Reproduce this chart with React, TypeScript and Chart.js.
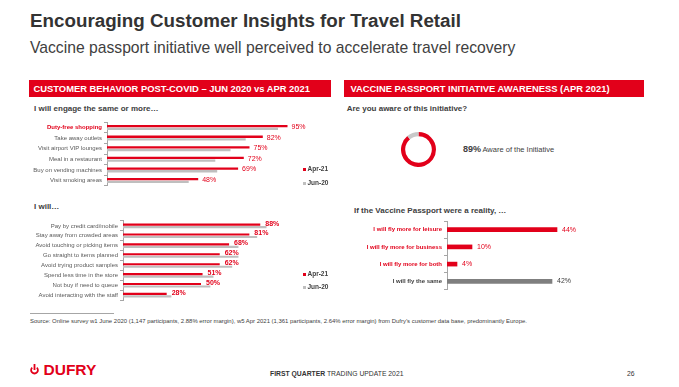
import React, { useEffect, useRef } from "react";
import { Chart, registerables } from "chart.js";
Chart.register(...registerables);

const RED = "#e2001a";
const LIGHTGRAY = "#bfbfbf";
const DARKGRAY = "#7f7f7f";
const TEXT = "#404040";
const FONT = "'Liberation Sans', Arial, sans-serif";

// Customer behaviour: "I will engage the same or more..."
const engageCategories = [
  "Duty-free shopping",
  "Take away outlets",
  "Visit airport VIP lounges",
  "Meal in a restaurant",
  "Buy on vending machines",
  "Visit smoking areas",
];
const engageApr21 = [95, 82, 75, 72, 69, 48];
const engageJun20 = [90, 73, 65, 57, 58, 43];

// "I will..."
const willCategories = [
  "Pay by credit card/mobile",
  "Stay away from crowded areas",
  "Avoid touching or picking items",
  "Go straight to items planned",
  "Avoid trying product samples",
  "Spend less time in the store",
  "Not buy if need to queue",
  "Avoid interacting with the staff",
];
const willApr21 = [88, 81, 68, 62, 62, 51, 50, 28];
const willJun20 = [92, 86, 74, 74, 70, 58, 56, 31];

// Awareness
const awarenessLabels = ["Aware of the Initiative", "Not aware"];
const awarenessValues = [89, 11];

// Vaccine passport
const passportCategories = [
  "I will fly more for leisure",
  "I will fly more for business",
  "I will fly more for both",
  "I will fly the same",
];
const passportValues = [44, 10, 4, 42];
const passportColors = [RED, RED, RED, DARKGRAY];
const passportTextColors = [RED, RED, RED, TEXT];

const seriesNames = ["Apr-21", "Jun-20"];

type HBarProps = {
  left: number;
  top: number;
  width: number;
  height: number;
  axisWidth: number;
  padTop: number;
  padBottom: number;
  padRight: number;
  labels: string[];
  datasets: any[];
  xMax: number;
  tickColor: (i: number) => string;
  tickBold: (i: number) => boolean;
  valueDataset: number;
  valueColor: (i: number) => string;
  valueBold: boolean;
  valueDx: number;
  valueDy: number;
};

function HBar(p: HBarProps) {
  const ref = useRef<HTMLCanvasElement>(null);
  useEffect(() => {
    const valuePlugin = {
      id: "valueLabels",
      afterDatasetsDraw(chart: any) {
        const ctx = chart.ctx;
        const meta = chart.getDatasetMeta(p.valueDataset);
        const data = chart.data.datasets[p.valueDataset].data;
        ctx.save();
        ctx.font = `${p.valueBold ? "bold " : ""}7px ${FONT}`;
        ctx.textBaseline = "middle";
        ctx.textAlign = "left";
        meta.data.forEach((bar: any, i: number) => {
          ctx.fillStyle = p.valueColor(i);
          ctx.fillText(`${data[i]}%`, bar.x + p.valueDx, bar.y + p.valueDy);
        });
        ctx.restore();
      },
    };
    const chart = new Chart(ref.current!, {
      type: "bar",
      data: { labels: p.labels, datasets: p.datasets },
      options: {
        responsive: false,
        animation: false,
        devicePixelRatio: 1,
        indexAxis: "y",
        layout: {
          padding: { left: 0, right: p.padRight, top: p.padTop, bottom: p.padBottom },
        },
        plugins: { legend: { display: false }, tooltip: { enabled: false } },
        scales: {
          x: { display: false, min: 0, max: p.xMax },
          y: {
            afterFit: (s: any) => {
              s.width = p.axisWidth;
            },
            border: { display: true, color: "#a6a6a6", width: 1 },
            grid: {
              display: true,
              drawOnChartArea: false,
              drawTicks: true,
              tickLength: 3,
              color: "#a6a6a6",
              offset: true,
            },
            ticks: {
              autoSkip: false,
              padding: 2,
              color: (c: any) => p.tickColor(c.index),
              font: (c: any) => ({
                family: FONT,
                size: 6,
                weight: p.tickBold(c.index) ? "bold" : "normal",
              }),
            },
          },
        },
      } as any,
      plugins: [valuePlugin],
    });
    return () => chart.destroy();
  }, []);
  return (
    <canvas
      ref={ref}
      width={p.width}
      height={p.height}
      style={{ position: "absolute", left: p.left, top: p.top, width: p.width, height: p.height }}
    />
  );
}

function Donut() {
  const ref = useRef<HTMLCanvasElement>(null);
  useEffect(() => {
    const chart = new Chart(ref.current!, {
      type: "doughnut",
      data: {
        labels: awarenessLabels,
        datasets: [
          {
            data: awarenessValues,
            backgroundColor: [RED, "#c8c8c8"],
            borderWidth: 0,
          },
        ],
      },
      options: {
        responsive: false,
        animation: false,
        devicePixelRatio: 1,
        radius: "100%",
        cutout: "76%",
        layout: { padding: 0 },
        plugins: { legend: { display: false }, tooltip: { enabled: false } },
      } as any,
    });
    return () => chart.destroy();
  }, []);
  return (
    <canvas
      ref={ref}
      width={35}
      height={35}
      style={{ position: "absolute", left: 400.5, top: 132, width: 35, height: 35 }}
    />
  );
}

function T(props: {
  x: number;
  cy: number;
  size: number;
  bold?: boolean;
  color?: string;
  children: React.ReactNode;
  style?: React.CSSProperties;
}) {
  return (
    <div
      style={{
        position: "absolute",
        left: props.x,
        top: props.cy - props.size / 2,
        fontSize: props.size,
        lineHeight: 1,
        fontWeight: props.bold ? "bold" : "normal",
        color: props.color || TEXT,
        fontFamily: FONT,
        whiteSpace: "nowrap",
        ...props.style,
      }}
    >
      {props.children}
    </div>
  );
}

function Legend({ x, y1, y2 }: { x: number; y1: number; y2: number }) {
  return (
    <>
      <div style={{ position: "absolute", left: x, top: y1 - 1.5, width: 3, height: 3, background: RED }} />
      <T x={x + 4.5} cy={y1} size={6.5} bold>
        {seriesNames[0]}
      </T>
      <div style={{ position: "absolute", left: x, top: y2 - 1.5, width: 3, height: 3, background: LIGHTGRAY }} />
      <T x={x + 4.5} cy={y2} size={6.5} bold>
        {seriesNames[1]}
      </T>
    </>
  );
}

export default function App() {
  const pairDatasets = (a: number[], b: number[], cat: number) => [
    {
      label: seriesNames[0],
      data: a,
      backgroundColor: RED,
      categoryPercentage: cat,
      barPercentage: 0.85,
    },
    {
      label: seriesNames[1],
      data: b,
      backgroundColor: LIGHTGRAY,
      categoryPercentage: cat,
      barPercentage: 0.85,
    },
  ];

  return (
    <div
      style={{
        position: "absolute",
        left: 0,
        top: 0,
        width: 679,
        height: 387,
        background: "#fff",
        overflow: "hidden",
        fontFamily: FONT,
      }}
    >
      <T x={30} cy={21.5} size={18.8} bold color="#333">
        Encouraging Customer Insights for Travel Retail
      </T>
      <T x={30} cy={47.5} size={15.7} color="#404040">
        Vaccine passport initiative well perceived to accelerate travel recovery
      </T>

      {/* Section headers */}
      <div style={{ position: "absolute", left: 29, top: 80, width: 302, height: 17, background: RED }} />
      <T x={33.5} cy={88.7} size={9.4} bold color="#fff">
        CUSTOMER BEHAVIOR POST-COVID – JUN 2020 vs APR 2021
      </T>
      <div style={{ position: "absolute", left: 344, top: 80, width: 300, height: 17, background: RED }} />
      <T x={350.5} cy={88.7} size={9.4} bold color="#fff">
        VACCINE PASSPORT INITIATIVE AWARENESS (APR 2021)
      </T>

      {/* Left: engage */}
      <T x={34} cy={109.3} size={8} bold>
        I will engage the same or more…
      </T>
      <HBar
        left={20}
        top={115}
        width={292}
        height={78}
        axisWidth={87}
        padTop={7.2}
        padBottom={7.2}
        padRight={15}
        labels={engageCategories}
        datasets={pairDatasets(engageApr21, engageJun20, 0.51)}
        xMax={100}
        tickColor={(i) => (i === 0 ? RED : "#595959")}
        tickBold={(i) => i === 0}
        valueDataset={0}
        valueColor={() => RED}
        valueBold={false}
        valueDx={4}
        valueDy={1}
      />
      <Legend x={303} y1={169.5} y2={183} />

      {/* Left: I will */}
      <T x={34} cy={207.3} size={8} bold>
        I will…
      </T>
      <HBar
        left={20}
        top={214}
        width={279}
        height={92}
        axisWidth={103}
        padTop={6.9}
        padBottom={5.9}
        padRight={20}
        labels={willCategories}
        datasets={pairDatasets(willApr21, willJun20, 0.505)}
        xMax={100}
        tickColor={() => "#595959"}
        tickBold={() => false}
        valueDataset={0}
        valueColor={() => RED}
        valueBold={true}
        valueDx={5}
        valueDy={-1}
      />
      <Legend x={303} y1={274} y2={287} />

      {/* Right: awareness */}
      <T x={346.7} cy={109.3} size={8} bold>
        Are you aware of this initiative?
      </T>
      <Donut />
      <T x={463} cy={149.5} size={9} bold color="#404040">
        {awarenessValues[0]}%
      </T>
      <T x={482.5} cy={150} size={7.5} color="#404040">
        {awarenessLabels[0]}
      </T>

      {/* Right: passport */}
      <T x={354} cy={210.7} size={8} bold>
        If the Vaccine Passport were a reality, …
      </T>
      <HBar
        left={340}
        top={215}
        width={282}
        height={82}
        axisWidth={107}
        padTop={6.1}
        padBottom={7.1}
        padRight={25}
        labels={passportCategories}
        datasets={[
          {
            data: passportValues,
            backgroundColor: passportColors,
            barThickness: 4,
          },
        ]}
        xMax={60}
        tickColor={(i) => passportTextColors[i]}
        tickBold={() => true}
        valueDataset={0}
        valueColor={(i) => passportTextColors[i]}
        valueBold={false}
        valueDx={5}
        valueDy={0}
      />

      {/* Footnote */}
      <div style={{ position: "absolute", left: 30, top: 313, width: 84, height: 1, background: "#a6a6a6" }} />
      <T x={30} cy={322} size={5.95} color="#404040">
        Source: Online survey w1 June 2020 (1,147 participants, 2.88% error margin), w5 Apr 2021 (1,361
        participants, 2.64% error margin) from Dufry’s customer data base, predominantly Europe.
      </T>

      {/* Footer */}
      <svg
        width={9}
        height={11}
        viewBox="0 0 9 11"
        style={{ position: "absolute", left: 30, top: 364 }}
      >
        <path d="M2.2 3.6 A3.4 3.4 0 1 0 6.8 3.6" fill="none" stroke={RED} strokeWidth={1.8} />
        <line x1={4.5} y1={0} x2={4.5} y2={6} stroke={RED} strokeWidth={1.8} />
      </svg>
      <T x={43.5} cy={370} size={15.5} bold color={RED}>
        DUFRY
      </T>
      <T x={270} cy={374} size={6.8} color="#333">
        <b>FIRST QUARTER</b> TRADING UPDATE 2021
      </T>
      <T x={627} cy={374} size={6.8} color="#333">
        26
      </T>
    </div>
  );
}
